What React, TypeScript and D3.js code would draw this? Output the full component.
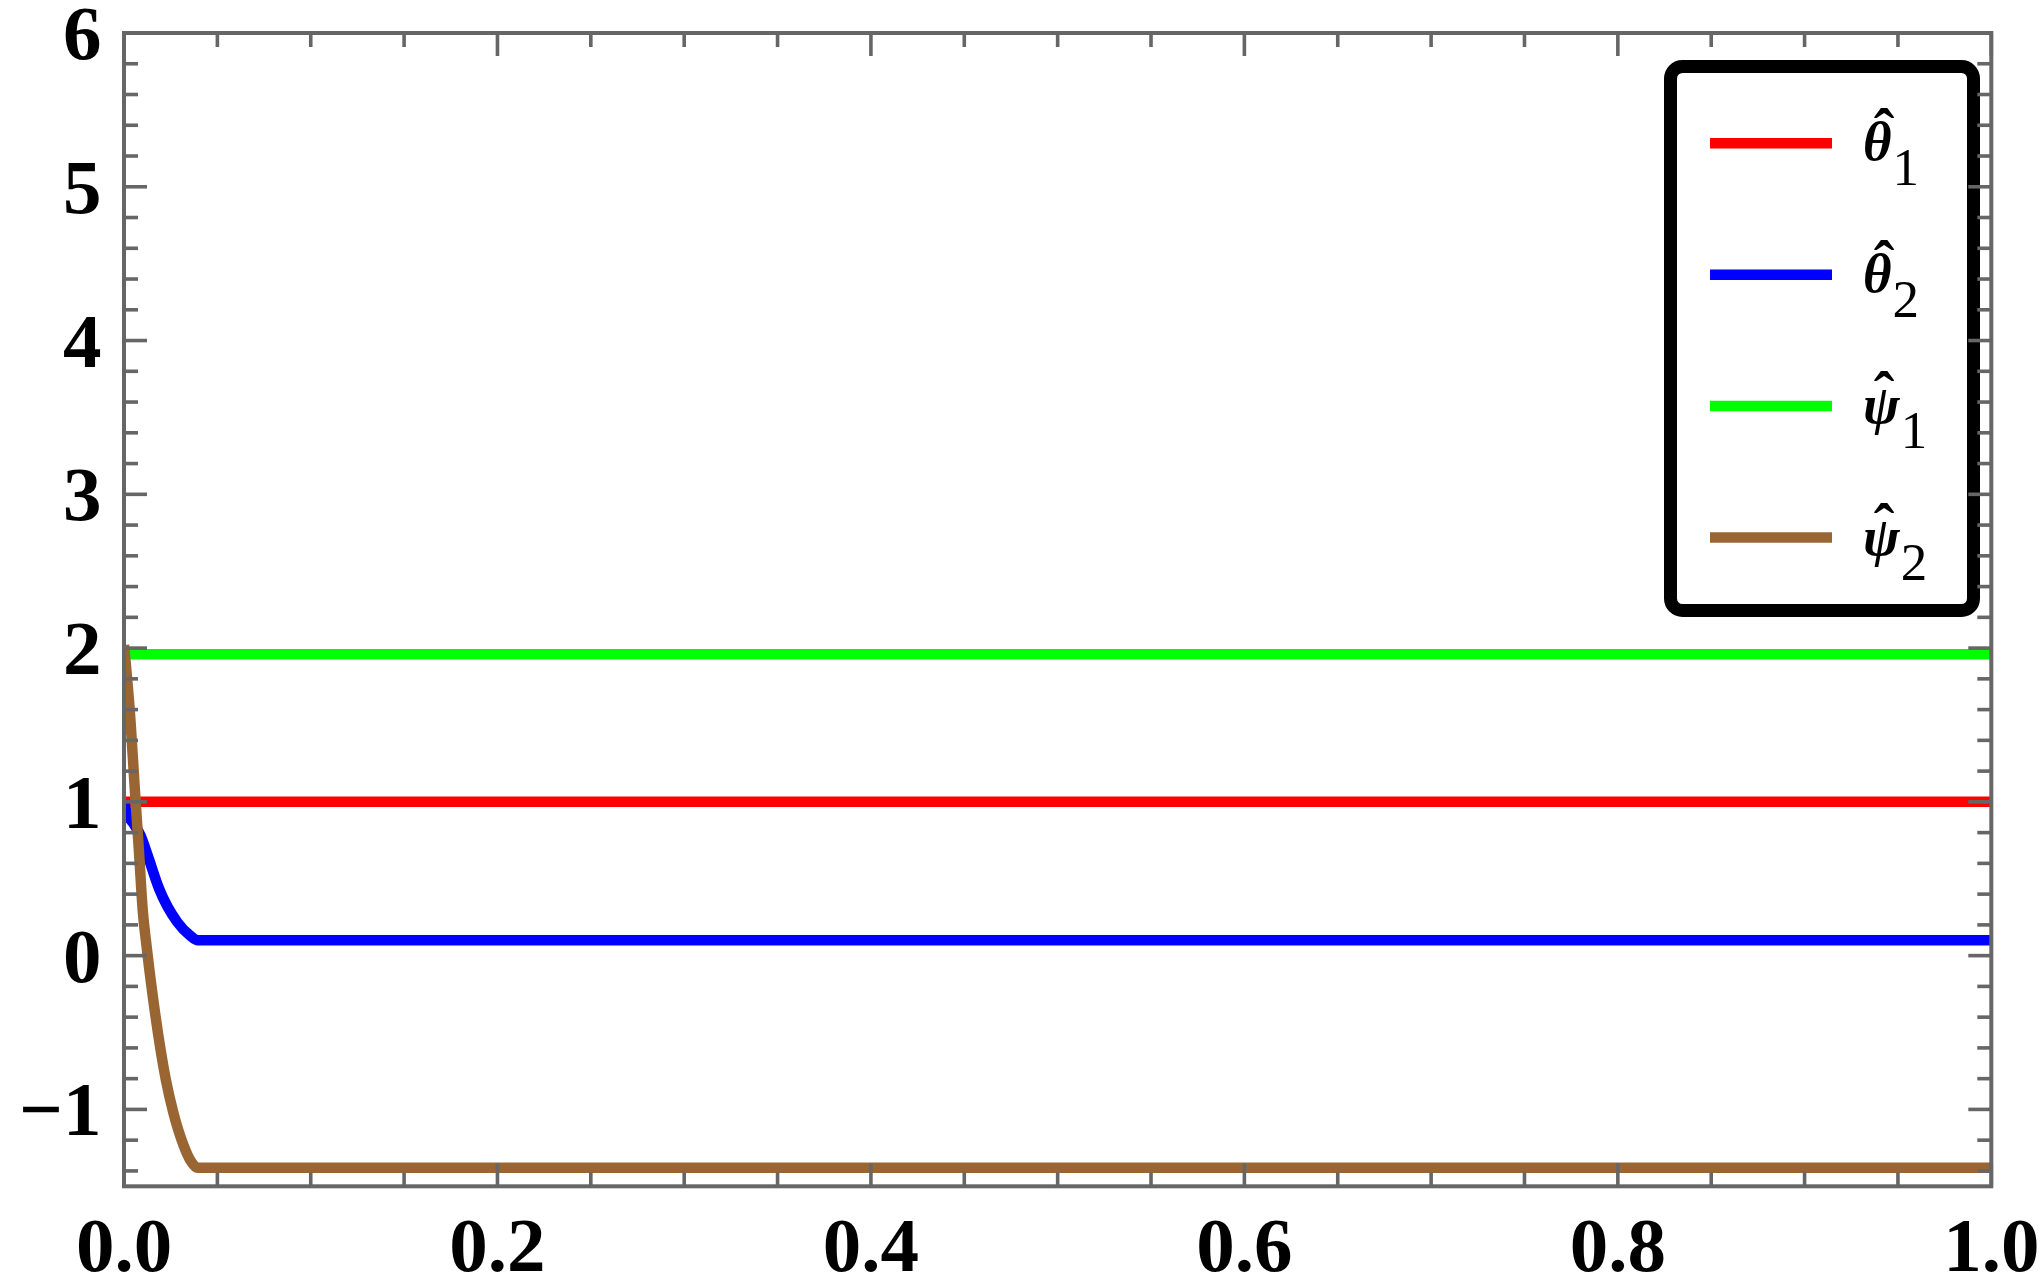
import React from "react";
import * as d3 from "d3";

// ---- data ----
const theta1X = [0, 1];
const theta1Y = [1, 1];

const theta2X = [0, 0.0015, 0.005, 0.0089, 0.0127, 0.0188, 0.0285, 0.0353, 0.0395, 1];
const theta2Y = [1.0, 0.93, 0.86, 0.78, 0.651, 0.435, 0.219, 0.132, 0.1, 0.1];

const psi1X = [0, 1];
const psi1Y = [1.96, 1.96];

const psi2X = [0, 0.0034, 0.0057, 0.008, 0.01, 0.0122, 0.0166, 0.0223, 0.0264, 0.0318, 0.0355, 0.0395, 1];
const psi2Y = [2.02, 1.54, 1.1, 0.68, 0.3, 0.05, -0.37, -0.8, -1.02, -1.23, -1.33, -1.38, -1.38];

const xTickValues = [0, 0.2, 0.4, 0.6, 0.8, 1.0];
const xTickLabels = ["0.0", "0.2", "0.4", "0.6", "0.8", "1.0"];
const yTickValues = [-1, 0, 1, 2, 3, 4, 5, 6];
const yTickLabels = ["\u22121", "0", "1", "2", "3", "4", "5", "6"];

const seriesNames = ["\u03B8", "\u03B8", "\u03C8", "\u03C8"];
const seriesSubs = ["1", "2", "1", "2"];
const seriesColors = ["#ff0000", "#0000ff", "#00ff00", "#996633"];

const series = [
  { xs: theta1X, ys: theta1Y },
  { xs: theta2X, ys: theta2Y },
  { xs: psi1X, ys: psi1Y },
  { xs: psi2X, ys: psi2Y },
];

const W = 2041;
const H = 1286;
const L = 124;
const R = 1991.3;
const T = 33;
const B = 1186.3;

export default function App() {
  const x = d3.scaleLinear().domain([0, 1]).range([L, R]);
  const y = d3.scaleLinear().domain([-1.5, 6]).range([B, T]);
  const line = d3
    .line<[number, number]>()
    .x((d) => x(d[0]))
    .y((d) => y(d[1]))
    .curve(d3.curveMonotoneX);

  const frameColor = "#666666";
  const font = "'Liberation Serif', 'Times New Roman', serif";

  const xMinor = d3.range(0, 1.0001, 0.05).filter((v) => Math.abs(v * 5 - Math.round(v * 5)) > 1e-6);
  const yMinor = d3.range(-1.4, 5.9, 0.2).filter((v) => Math.abs(v - Math.round(v)) > 1e-6);

  const majorLen = 23;
  const minorLen = 14;
  const tickW = 3.6;

  // legend geometry
  const legX0 = 1670.5, legY0 = 66.5, legW = 303, legH = 544;
  const legLineY = [143.3, 274.7, 406.1, 537.6];

  return (
    <svg width={W} height={H} style={{ position: "absolute", left: 0, top: 0, background: "#fff" }}>
      <defs>
        <clipPath id="plotclip">
          <rect x={L} y={T} width={R - L} height={B - T} />
        </clipPath>
      </defs>
      <rect x={0} y={0} width={W} height={H} fill="#fff" />
      <g clipPath="url(#plotclip)">
        {series.map((s, i) => (
          <path
            key={i}
            d={line(s.xs.map((v, k) => [v, s.ys[k]] as [number, number])) || ""}
            fill="none"
            stroke={seriesColors[i]}
            strokeWidth={10.5}
            strokeLinejoin="round"
          />
        ))}
      </g>

      {/* legend */}
      <rect x={legX0} y={legY0} width={legW} height={legH} rx={12} ry={12} fill="#fff" stroke="#000" strokeWidth={13} />
      {seriesColors.map((c, i) => (
        <g key={i}>
          <line x1={1710} x2={1832} y1={legLineY[i]} y2={legLineY[i]} stroke={c} strokeWidth={10.5} />
          <text x={1863} y={legLineY[i] + 17} fontFamily={font} fontSize={55} fill="#000">
            <tspan fontWeight="bold" fontStyle="italic">{seriesNames[i]}</tspan>
            <tspan fontSize={53} dy={25} dx={1}>{seriesSubs[i]}</tspan>
          </text>
          <text x={1884} y={legLineY[i] + 9} textAnchor="middle" fontFamily={font} fontSize={62} fontWeight="bold" fill="#000">
            {"\u02C6"}
          </text>
        </g>
      ))}

      {/* frame */}
      <rect x={L} y={T} width={R - L} height={B - T} fill="none" stroke={frameColor} strokeWidth={4} />

      {/* x ticks bottom & top */}
      {xTickValues.map((v, i) => (
        <g key={"xm" + i}>
          <line x1={x(v)} x2={x(v)} y1={B} y2={B - majorLen} stroke={frameColor} strokeWidth={tickW} />
          <line x1={x(v)} x2={x(v)} y1={T} y2={T + majorLen} stroke={frameColor} strokeWidth={tickW} />
          <text x={x(v)} y={1271} textAnchor="middle" fontFamily={font} fontWeight="bold" fontSize={77} fill="#000">
            {xTickLabels[i]}
          </text>
        </g>
      ))}
      {xMinor.map((v, i) => (
        <g key={"xn" + i}>
          <line x1={x(v)} x2={x(v)} y1={B} y2={B - minorLen} stroke={frameColor} strokeWidth={tickW} />
          <line x1={x(v)} x2={x(v)} y1={T} y2={T + minorLen} stroke={frameColor} strokeWidth={tickW} />
        </g>
      ))}

      {/* y ticks left & right */}
      {yTickValues.map((v, i) => (
        <g key={"ym" + i}>
          <line x1={L} x2={L + majorLen} y1={y(v)} y2={y(v)} stroke={frameColor} strokeWidth={tickW} />
          <line x1={R} x2={R - majorLen} y1={y(v)} y2={y(v)} stroke={frameColor} strokeWidth={tickW} />
          <text x={101.5} y={y(v) + 26} textAnchor="end" fontFamily={font} fontWeight="bold" fontSize={77} fill="#000">
            {yTickLabels[i]}
          </text>
        </g>
      ))}
      {yMinor.map((v, i) => (
        <g key={"yn" + i}>
          <line x1={L} x2={L + minorLen} y1={y(v)} y2={y(v)} stroke={frameColor} strokeWidth={tickW} />
          <line x1={R} x2={R - minorLen} y1={y(v)} y2={y(v)} stroke={frameColor} strokeWidth={tickW} />
        </g>
      ))}
    </svg>
  );
}
